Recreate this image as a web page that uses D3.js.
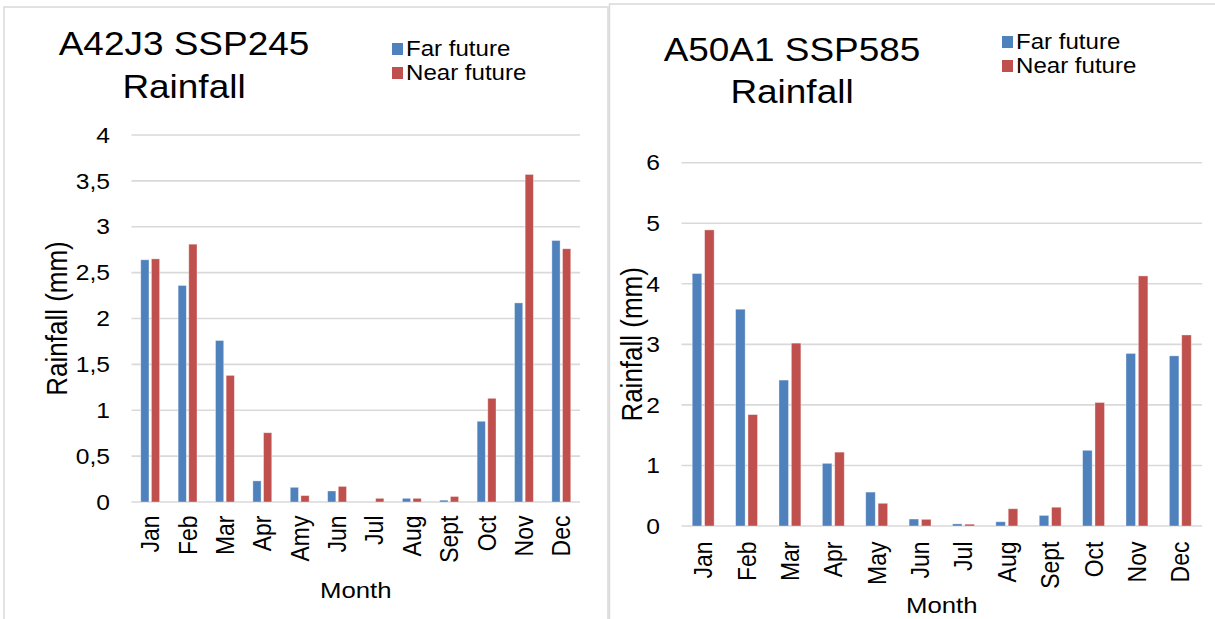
<!DOCTYPE html>
<html>
<head>
<meta charset="utf-8">
<script src="https://cdn.jsdelivr.net/npm/d3@7"></script>
<style>
  html, body { margin: 0; padding: 0; background: #ffffff; }
  svg { display: block; }
  text { font-family: "Liberation Sans", Arial, sans-serif; fill: #000; }
</style>
</head>
<body>
<svg id="chart" width="1215" height="619"></svg>
<script>
// ---- Data -----------------------------------------------------------------
const monthsA = ["Jan", "Feb", "Mar", "Apr", "Amy", "Jun", "Jul", "Aug", "Sept", "Oct", "Nov", "Dec"];
const farFutureA  = [2.64, 2.36, 1.76, 0.23, 0.16, 0.12, 0.00, 0.04, 0.02, 0.88, 2.17, 2.85];
const nearFutureA = [2.65, 2.81, 1.38, 0.755, 0.07, 0.17, 0.04, 0.04, 0.06, 1.13, 3.57, 2.76];
const yTicksA = [0, 0.5, 1, 1.5, 2, 2.5, 3, 3.5, 4];

const monthsB = ["Jan", "Feb", "Mar", "Apr", "May", "Jun", "Jul", "Aug", "Sept", "Oct", "Nov", "Dec"];
const farFutureB  = [4.17, 3.58, 2.41, 1.035, 0.56, 0.115, 0.035, 0.07, 0.175, 1.25, 2.85, 2.81];
const nearFutureB = [4.89, 1.84, 3.02, 1.22, 0.375, 0.11, 0.03, 0.285, 0.31, 2.04, 4.13, 3.155];
const yTicksB = [0, 1, 2, 3, 4, 5, 6];

const seriesNames = ["Far future", "Near future"];
const seriesColors = ["#4f81bd", "#c0504d"];

// ---- Drawing ----------------------------------------------------------------
const svg = d3.select("#chart");
const SX = 1.12; // text is drawn slightly wide
const commaFmt = v => String(v).replace(".", ",");

svg.append("rect").attr("width", 1215).attr("height", 619).attr("fill", "#fff");

function drawChart(cfg) {
  const g = svg.append("g");

  // chart frame
  g.append("rect")
    .attr("x", cfg.frame[0]).attr("y", cfg.frame[1])
    .attr("width", cfg.frame[2]).attr("height", cfg.frame[3])
    .attr("fill", "#fff").attr("stroke", "#d9d9d9").attr("stroke-width", 1.5);

  const x = d3.scaleBand().domain(cfg.months).range([cfg.plot.left, cfg.plot.right]).padding(0);
  const y = d3.scaleLinear().domain([0, d3.max(cfg.yTicks)]).range([cfg.plot.bottom, cfg.plot.top]);

  // gridlines
  g.append("g").selectAll("line").data(cfg.yTicks).join("line")
    .attr("x1", cfg.plot.left).attr("x2", cfg.plot.right)
    .attr("y1", d => y(d)).attr("y2", d => y(d))
    .attr("stroke", "#d9d9d9").attr("stroke-width", 1.6);

  // y tick labels
  g.append("g").selectAll("text").data(cfg.yTicks).join("text")
    .attr("transform", d => `translate(${cfg.yLabelX},${y(d)}) scale(${SX},1)`)
    .attr("text-anchor", "end").attr("dy", "0.35em")
    .attr("font-size", 22)
    .text(d => cfg.fmt(d));

  // bars
  const bw = x.bandwidth() * 0.22;
  const gap = x.bandwidth() * 0.065;
  const series = [cfg.far, cfg.near];
  series.forEach((vals, si) => {
    g.append("g").selectAll("rect").data(vals).join("rect")
      .attr("x", (d, i) => {
        const c = x(cfg.months[i]) + x.bandwidth() / 2;
        return si === 0 ? c - gap / 2 - bw : c + gap / 2;
      })
      .attr("y", d => y(d))
      .attr("width", bw)
      .attr("height", d => y(0) - y(d))
      .attr("fill", seriesColors[si])
      .attr("stroke", "rgba(255,255,255,0.45)")
      .attr("stroke-width", 0.8);
  });

  // x tick labels (rotated)
  g.append("g").selectAll("text").data(cfg.months).join("text")
    .attr("transform", d => `translate(${x(d) + x.bandwidth() / 2},${cfg.xLabelY}) scale(${SX},1) rotate(-90)`)
    .attr("text-anchor", "end").attr("dy", "0.35em")
    .attr("font-size", 23)
    .text(d => d);

  // axis titles
  g.append("text")
    .attr("transform", `translate(${(cfg.plot.left + cfg.plot.right) / 2},${cfg.monthY}) scale(${SX},1)`)
    .attr("text-anchor", "middle").attr("font-size", 23)
    .text("Month");

  g.append("text")
    .attr("transform", `translate(${cfg.yTitleX},${(cfg.plot.top + cfg.plot.bottom) / 2}) scale(${SX},1) rotate(-90)`)
    .attr("text-anchor", "middle").attr("font-size", 26)
    .text("Rainfall (mm)");

  // title
  cfg.title.forEach((line, i) => {
    g.append("text")
      .attr("transform", `translate(${cfg.titleX},${cfg.titleY[i]}) scale(${SX},1)`)
      .attr("text-anchor", "middle").attr("font-size", 33)
      .text(line);
  });

  // legend
  seriesNames.forEach((name, i) => {
    g.append("rect")
      .attr("x", cfg.legend.x).attr("y", cfg.legend.y[i] - 13)
      .attr("width", 11).attr("height", 12)
      .attr("fill", seriesColors[i]);
    g.append("text")
      .attr("transform", `translate(${cfg.legend.x + 14},${cfg.legend.y[i]}) scale(${SX},1)`)
      .attr("font-size", 21.5)
      .text(name);
  });
}

drawChart({
  frame: [4, 7, 604, 620],
  plot: { left: 131.5, right: 580, top: 135, bottom: 502 },
  months: monthsA, far: farFutureA, near: nearFutureA,
  yTicks: yTicksA, fmt: commaFmt,
  yLabelX: 110, yTitleX: 67, xLabelY: 515.5, monthY: 598,
  title: ["A42J3 SSP245", "Rainfall"], titleX: 184, titleY: [55, 98],
  legend: { x: 392, y: [56, 80] }
});

drawChart({
  frame: [609.5, 4, 620, 630],
  plot: { left: 681.5, right: 1202, top: 162.7, bottom: 526 },
  months: monthsB, far: farFutureB, near: nearFutureB,
  yTicks: yTicksB, fmt: d => String(d),
  yLabelX: 660, yTitleX: 642, xLabelY: 541.5, monthY: 613,
  title: ["A50A1 SSP585", "Rainfall"], titleX: 792, titleY: [61, 103],
  legend: { x: 1002, y: [49, 73] }
});
</script>
</body>
</html>
